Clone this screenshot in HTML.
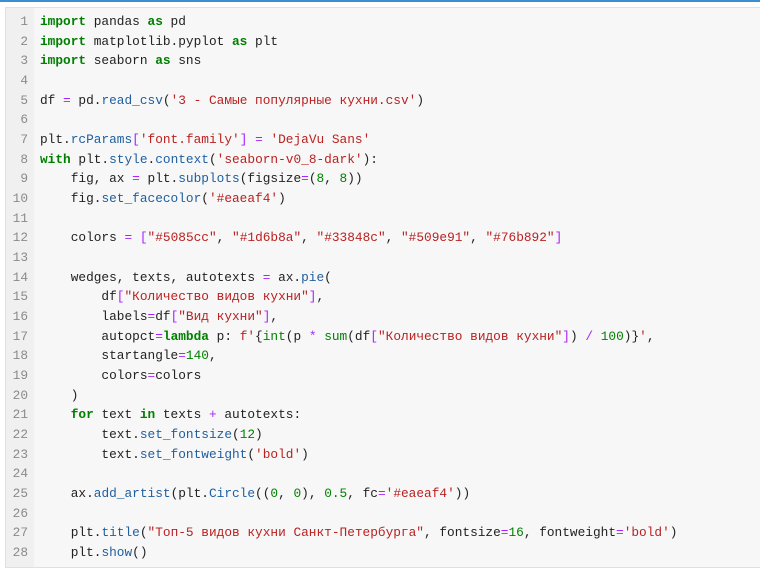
<!DOCTYPE html>
<html><head><meta charset="utf-8"><style>
body{margin:0;width:760px;height:569px;background:#fff;overflow:hidden;position:relative}
.top{position:absolute;left:0;top:0;width:760px;height:2px;background:#3b8fd0}
.panel{position:absolute;left:5px;top:7px;width:760px;height:559px;background:#f7f7f7;border:1px solid #e0e0e0}
.gut{position:absolute;left:0;top:0;width:28px;height:100%;background:#f0f0f0}
pre{position:absolute;margin:0;top:4px;font-family:"Liberation Mono","Noto Sans CJK SC",monospace;font-size:12.8px;line-height:19.67px;color:#222}
.n{left:0;width:22px;text-align:right;color:#8a8a8a}
.c{left:34px}
.k{color:#008000;font-weight:bold}
.b{color:#008000}
.f{color:#1f5fa0}
.s{color:#ba2121}
.m{color:#008000}
.o{color:#aa22ff}
</style></head><body>
<div class="top"></div>
<div class="panel"><div class="gut"></div>
<pre class="n">1
2
3
4
5
6
7
8
9
10
11
12
13
14
15
16
17
18
19
20
21
22
23
24
25
26
27
28</pre>
<pre class="c"><span class="k">import</span> pandas <span class="k">as</span> pd
<span class="k">import</span> matplotlib.pyplot <span class="k">as</span> plt
<span class="k">import</span> seaborn <span class="k">as</span> sns

df <span class="o">=</span> pd.<span class="f">read_csv</span>(<span class="s">'3 - Самые популярные кухни.csv'</span>)

plt.<span class="f">rcParams</span><span class="o">[</span><span class="s">'font.family'</span><span class="o">]</span> <span class="o">=</span> <span class="s">'DejaVu Sans'</span>
<span class="k">with</span> plt.<span class="f">style</span>.<span class="f">context</span>(<span class="s">'seaborn-v0_8-dark'</span>):
    fig, ax <span class="o">=</span> plt.<span class="f">subplots</span>(figsize<span class="o">=</span>(<span class="m">8</span>, <span class="m">8</span>))
    fig.<span class="f">set_facecolor</span>(<span class="s">'#eaeaf4'</span>)

    colors <span class="o">=</span> <span class="o">[</span><span class="s">"#5085cc"</span>, <span class="s">"#1d6b8a"</span>, <span class="s">"#33848c"</span>, <span class="s">"#509e91"</span>, <span class="s">"#76b892"</span><span class="o">]</span>

    wedges, texts, autotexts <span class="o">=</span> ax.<span class="f">pie</span>(
        df<span class="o">[</span><span class="s">"Количество видов кухни"</span><span class="o">]</span>,
        labels<span class="o">=</span>df<span class="o">[</span><span class="s">"Вид кухни"</span><span class="o">]</span>,
        autopct<span class="o">=</span><span class="k">lambda</span> p: <span class="s">f'</span>{<span class="b">int</span>(p <span class="o">*</span> <span class="b">sum</span>(df<span class="o">[</span><span class="s">"Количество видов кухни"</span><span class="o">]</span>) <span class="o">/</span> <span class="m">100</span>)}<span class="s">'</span>,
        startangle<span class="o">=</span><span class="m">140</span>,
        colors<span class="o">=</span>colors
    )
    <span class="k">for</span> text <span class="k">in</span> texts <span class="o">+</span> autotexts:
        text.<span class="f">set_fontsize</span>(<span class="m">12</span>)
        text.<span class="f">set_fontweight</span>(<span class="s">'bold'</span>)

    ax.<span class="f">add_artist</span>(plt.<span class="f">Circle</span>((<span class="m">0</span>, <span class="m">0</span>), <span class="m">0.5</span>, fc<span class="o">=</span><span class="s">'#eaeaf4'</span>))

    plt.<span class="f">title</span>(<span class="s">"Топ-5 видов кухни Санкт-Петербурга"</span>, fontsize<span class="o">=</span><span class="m">16</span>, fontweight<span class="o">=</span><span class="s">'bold'</span>)
    plt.<span class="f">show</span>()</pre>
</div>
</body></html>
